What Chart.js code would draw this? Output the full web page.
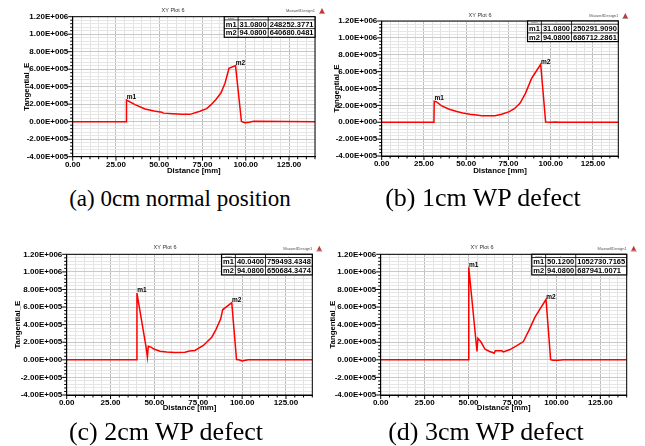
<!DOCTYPE html>
<html>
<head>
<meta charset="utf-8">
<script src="https://cdn.jsdelivr.net/npm/chart.js@4.4.1/dist/chart.umd.min.js"></script>
<style>
html,body{margin:0;padding:0;background:#fff;width:645px;height:446px;overflow:hidden;position:relative;}
canvas{position:absolute;}
.cap{position:absolute;font-family:"Liberation Serif","Times New Roman",serif;font-size:23px;color:#000;white-space:nowrap;transform:translate(-50%,-50%);line-height:1;}
.cap.big{font-size:26px;}
</style>
</head>
<body>
<canvas id="ca"></canvas>
<canvas id="cb"></canvas>
<canvas id="cc"></canvas>
<canvas id="cd"></canvas>
<div class="cap" id="capa"></div>
<div class="cap big" id="capb"></div>
<div class="cap big" id="capc"></div>
<div class="cap big" id="capd"></div>
<script>
// ---------------- DATA ----------------
const captions = ['(a) 0cm normal position', '(b) 1cm WP defect', '(c) 2cm WP defect', '(d) 3cm WP defect'];
const plotTitle = 'XY Plot 6';
const brandText = 'MaxwellDesign1';
const xAxisTitle = 'Distance [mm]';
const yAxisTitle = 'Tangential_E';
const tableHeader = ['Name', 'X', 'Y'];
const markerNames = ['m1', 'm2'];

// (a) 0cm normal position
const distanceA = [0, 30.9, 31.08, 36, 41.8, 47, 51.5, 52.5, 58, 63, 67.8, 73.5, 77.4, 80, 83, 85.7, 88, 90.3, 94.08, 97.5, 99.5, 102, 104.5, 140];
const fieldA    = [0, 0, 248252.3771, 195000, 145000, 122000, 108000, 98000, 92000, 85000, 84000, 120000, 150000, 195000, 260000, 330000, 440000, 610000, 640680.0481, 2000, -12000, -5000, 5000, 0];
const markerXA = [31.08, 94.08];
const markerYA = [248252.3771, 640680.0481];

// (b) 1cm WP defect
const distanceB = [0, 30.9, 31.08, 32.5, 35.5, 40, 44.4, 48, 52.2, 56, 59.2, 63, 67, 71, 75.5, 78.5, 81.8, 85, 88.7, 90, 94.08, 97, 100, 103, 105, 140];
const fieldB    = [0, 0, 250291.9090, 242000, 193000, 155000, 128000, 110000, 95000, 85000, 78000, 76000, 76000, 95000, 126000, 160000, 225000, 340000, 520000, 560000, 686712.2861, 3000, 0, 4000, 0, 0];
const markerXB = [31.08, 94.08];
const markerYB = [250291.9090, 686712.2861];

// (c) 2cm WP defect
const distanceC = [0, 39.9, 40.04, 45.2, 46.0, 46.5, 48, 50, 53.2, 57, 61.7, 67.4, 70, 73.1, 77.9, 82.7, 85, 87.8, 88.9, 94.08, 96.8, 98, 100, 103.5, 140];
const fieldC    = [0, 0, 759493.4348, 150000, 30000, 155000, 145000, 120000, 98000, 88000, 83000, 86000, 100000, 106000, 163000, 257000, 340000, 466000, 569000, 650684.3474, 2000, 0, -12000, 0, 0];
const markerXC = [40.04, 94.08];
const markerYC = [759493.4348, 650684.3474];

// (d) 3cm WP defect
const distanceD = [0, 50.0, 50.12, 54.2, 54.8, 55.3, 57, 59.4, 62, 64.1, 64.6, 65.2, 68.9, 69.8, 73.6, 77, 81.2, 84.5, 87.8, 94.08, 96.7, 98, 101, 104, 140];
const fieldD    = [0, 0, 1052730.7165, 220000, 95000, 245000, 205000, 120000, 95000, 80000, 75000, 103000, 103000, 90000, 117000, 155000, 208000, 340000, 485000, 687941.0071, 2000, -5000, -5000, 0, 0];
const markerXD = [50.12, 94.08];
const markerYD = [1052730.7165, 687941.0071];

// axis ranges / ticks
const xMin = 0, xMax = 140, xStep = 5, xMajor = 25;
const yMin = -400000, yMax = 1200000, yStep = 40000, yMajor = 200000;

// ---------------- LAYOUT ----------------
const FAM = "'Liberation Sans', Arial, sans-serif";
const panels = [
  {canvas:'ca', cap:'capa', capPos:[180,198], box:[0,0,330,182],   plot:[72.7,16.7,315,156.7],   yT:26.7,  xT:170.7, tt:[173,10],   dist:distanceA, field:fieldA, mx:markerXA, my:markerYA},
  {canvas:'cb', cap:'capb', capPos:[483,198], box:[322,0,323,182], plot:[381.7,21,618.3,156],     yT:337.3, xT:170.7, tt:[480,15],   dist:distanceB, field:fieldB, mx:markerXB, my:markerYB},
  {canvas:'cc', cap:'capc', capPos:[166,432], box:[0,235,330,185], plot:[66.7,254.3,312.3,395],   yT:18.3,  xT:408.3, tt:[165,247.7], dist:distanceC, field:fieldC, mx:markerXC, my:markerYC},
  {canvas:'cd', cap:'capd', capPos:[486,432], box:[322,235,323,185], plot:[380.7,254.3,626.7,395], yT:332.7, xT:408.3, tt:[482,247.7], dist:distanceD, field:fieldD, mx:markerXD, my:markerYD}
];

function sci(v) {
  if (v === 0) return '0.00E+000';
  const s = v.toExponential(2);
  const parts = s.split('e');
  const n = parseInt(parts[1], 10);
  return parts[0].toUpperCase() + 'E' + (n < 0 ? '-' : '+') + String(Math.abs(n)).padStart(3, '0');
}

function makeDecor(p) {
  return {
    id: 'decor',
    afterDraw(chart) {
      const ctx = chart.ctx, a = chart.chartArea, xs = chart.scales.x, ys = chart.scales.y;
      const bx = p.box[0], by = p.box[1];
      ctx.save();
      ctx.strokeStyle = '#000'; ctx.lineWidth = 1;
      ctx.strokeRect(a.left, a.top, a.right - a.left, a.bottom - a.top);
      ctx.beginPath();
      ys.ticks.forEach(t => {
        const y = ys.getPixelForValue(t.value);
        const len = (t.value % yMajor === 0) ? 4.5 : 2.5;
        ctx.moveTo(a.left - len, y); ctx.lineTo(a.left, y);
      });
      xs.ticks.forEach(t => {
        const x = xs.getPixelForValue(t.value);
        const len = (t.value % xMajor === 0) ? 4 : 2.5;
        ctx.moveTo(x, a.bottom); ctx.lineTo(x, a.bottom + len);
      });
      ctx.stroke();
      ctx.font = 'bold 6.5px ' + FAM; ctx.fillStyle = '#000';
      ctx.textAlign = 'left'; ctx.textBaseline = 'bottom';
      markerNames.forEach((n, i) => {
        const x = xs.getPixelForValue(p.mx[i]);
        const y = ys.getPixelForValue(p.my[i]);
        ctx.fillText(n, x + 0.3, y + 0.8);
      });
      ctx.font = '5.5px ' + FAM; ctx.fillStyle = '#333';
      ctx.textAlign = 'center'; ctx.textBaseline = 'middle';
      ctx.fillText(plotTitle, p.tt[0] - bx, p.tt[1] - by);
      ctx.font = '4px ' + FAM; ctx.fillStyle = '#555'; ctx.textAlign = 'right';
      ctx.fillText(brandText, a.right, p.tt[1] - by + 1);
      const lx = a.right + 7, ly = p.tt[1] - by + 1;
      ctx.fillStyle = '#c33';
      ctx.beginPath(); ctx.moveTo(lx, ly - 3); ctx.lineTo(lx - 2.5, ly + 2); ctx.lineTo(lx + 2.5, ly + 2); ctx.closePath(); ctx.fill();
      ctx.fillStyle = '#888'; ctx.fillRect(lx - 3, ly + 2, 6, 0.8);
      ctx.font = 'bold 7.5px ' + FAM;
      const cols = [
        markerNames,
        p.mx.map(v => v.toFixed(4)),
        p.my.map(v => v.toFixed(4))
      ];
      const widths = cols.map(c => Math.max.apply(null, c.map(s => ctx.measureText(s).width)) + 3);
      const total = widths.reduce((s, w) => s + w, 0);
      const hh = 3.2, rh = 8.7;
      const x0 = a.right - total, y0 = a.top;
      ctx.fillStyle = '#fff';
      ctx.fillRect(x0, y0, total, hh + 2 * rh);
      ctx.strokeStyle = '#000'; ctx.lineWidth = 1.2;
      ctx.strokeRect(x0, y0, total, hh + 2 * rh);
      ctx.lineWidth = 0.8;
      ctx.beginPath();
      ctx.moveTo(x0, y0 + hh); ctx.lineTo(x0 + total, y0 + hh);
      ctx.moveTo(x0, y0 + hh + rh); ctx.lineTo(x0 + total, y0 + hh + rh);
      let cx = x0;
      for (let i = 0; i < widths.length - 1; i++) { cx += widths[i]; ctx.moveTo(cx, y0); ctx.lineTo(cx, y0 + hh + 2 * rh); }
      ctx.stroke();
      ctx.font = '2.5px ' + FAM; ctx.fillStyle = '#444'; ctx.textAlign = 'center'; ctx.textBaseline = 'middle';
      cx = x0;
      tableHeader.forEach((h, i) => { ctx.fillText(h, cx + widths[i] / 2, y0 + hh / 2 + 0.2); cx += widths[i]; });
      ctx.font = 'bold 7.5px ' + FAM; ctx.fillStyle = '#000'; ctx.textAlign = 'left'; ctx.textBaseline = 'middle';
      for (let r = 0; r < markerNames.length; r++) {
        cx = x0;
        const yy = y0 + hh + rh * r + rh / 2 + 0.4;
        for (let c = 0; c < cols.length; c++) {
          ctx.fillText(cols[c][r], cx + 1.5, yy);
          cx += widths[c];
        }
      }
      ctx.restore();
    }
  };
}

panels.forEach((p, idx) => {
  const cv = document.getElementById(p.canvas);
  const [bx, by, bw, bh] = p.box;
  const [L, T, R, B] = p.plot;
  cv.width = bw; cv.height = bh;
  cv.style.left = bx + 'px'; cv.style.top = by + 'px';
  cv.style.width = bw + 'px'; cv.style.height = bh + 'px';

  const capEl = document.getElementById(p.cap);
  capEl.textContent = captions[idx];
  capEl.style.left = p.capPos[0] + 'px';
  capEl.style.top = p.capPos[1] + 'px';

  const titleFont = {family: FAM, size: 7.8, weight: 'bold', lineHeight: 1.2};
  const tickFont = {family: FAM, size: 8, weight: 'bold'};
  const pts = p.dist.map((x, i) => ({x: x, y: p.field[i]}));

  new Chart(cv, {
    type: 'scatter',
    data: {
      datasets: [{
        data: pts,
        showLine: true,
        borderColor: '#ff0000',
        backgroundColor: '#ff0000',
        borderWidth: 1.5,
        pointRadius: 0,
        tension: 0
      }]
    },
    options: {
      responsive: false,
      animation: false,
      devicePixelRatio: 1,
      layout: {padding: {left: 0, top: T - by, right: (bx + bw) - R, bottom: 0}},
      plugins: {legend: {display: false}, tooltip: {enabled: false}, title: {display: false}},
      scales: {
        x: {
          type: 'linear', min: xMin, max: xMax,
          ticks: {
            stepSize: xStep, maxTicksLimit: 200, autoSkip: false, maxRotation: 0, minRotation: 0,
            padding: 3, color: '#000', font: tickFont,
            callback: v => (v % xMajor === 0) ? v.toFixed(2) : ''
          },
          grid: {
            drawTicks: false, lineWidth: 1,
            color: c => (c.tick && c.tick.value % xMajor === 0) ? '#bdbdbd' : '#e2e2e2'
          },
          border: {display: true, color: '#000', width: 1},
          title: {display: true, text: xAxisTitle, color: '#000', font: titleFont,
                  padding: {top: 0, bottom: (by + bh) - p.xT - 4.7}},
          afterFit: s => { s.height = (by + bh) - B; }
        },
        y: {
          type: 'linear', min: yMin, max: yMax,
          ticks: {
            stepSize: yStep, maxTicksLimit: 200, autoSkip: false,
            padding: 4.4, color: '#000', font: tickFont,
            callback: v => (v % yMajor === 0) ? sci(v) : ''
          },
          grid: {
            drawTicks: false, lineWidth: 1,
            color: c => (c.tick && c.tick.value % yMajor === 0) ? '#c8c8c8' : '#e6e6e6'
          },
          border: {display: true, color: '#000', width: 1},
          title: {display: true, text: yAxisTitle, color: '#000', font: titleFont,
                  padding: {top: p.yT - bx - 4.7, bottom: 0}},
          afterFit: s => { s.width = L - bx; }
        }
      }
    },
    plugins: [makeDecor(p)]
  });
});
</script>
</body>
</html>
